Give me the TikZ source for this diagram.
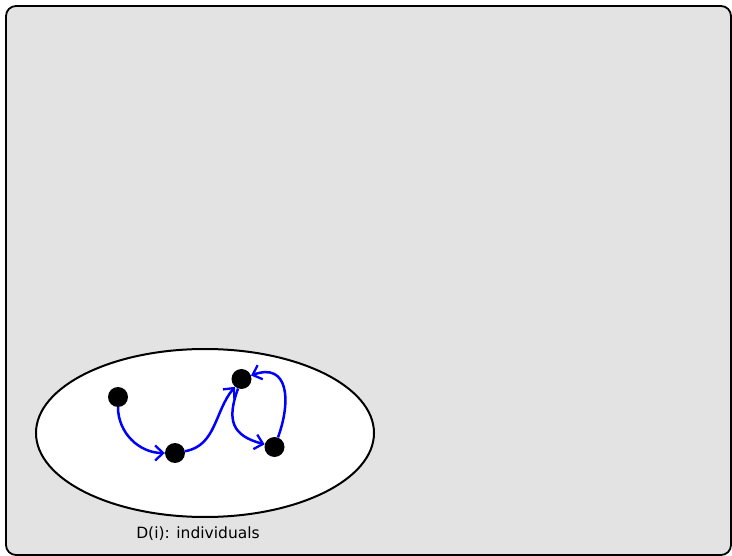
\documentclass[tikz,border=0pt]{standalone}
\usepackage{fontspec}
\setmainfont{DejaVu Sans}
\usetikzlibrary{arrows.meta}
\usetikzlibrary{positioning}

\begin{document}
\begin{tikzpicture}[x=1pt,y=-1pt]
		\tikzset{vertex/.style = {shape=circle,draw=none,fill=black,minimum size=20pt,inner sep=0pt}}
		\tikzset{edge/.style = {draw=blue,line width=2.5pt,-{Straight Barb[length=8pt,width=15pt,line width=2.3pt]}}}
		\tikzset{frame/.style = {draw=black,line width=1.8pt,fill=black!11,rounded corners=10pt}}
		\useasboundingbox (0,0) rectangle (732,556);
		% background
		\draw[frame] (6,6) rectangle (731,555);
		\draw[line width=2pt,fill=white] (205,433) ellipse [x radius=169pt, y radius=84pt];
		\node[font=\fontsize{15.5}{18}\selectfont] (lbl) at (198,534) {D(i): individuals};
		% vertices
		\node[vertex] (a) at (118,397) {};
		\node[vertex] (b) at (175,453) {};
		\node[vertex] (c) at (241.5,379) {};
		\node[vertex] (d) at (274.5,447) {};
		%edges
		\draw[edge] (a) to[out=-90,in=180] (b);
		\draw[edge] (b) to[out=10,in=-130] (c);
		\draw[edge] (c) to[out=-110,in=165,looseness=1.4] (d);
		\draw[edge] (d) to[out=70,in=20,looseness=1.5] (c);
\end{tikzpicture}
\end{document}
